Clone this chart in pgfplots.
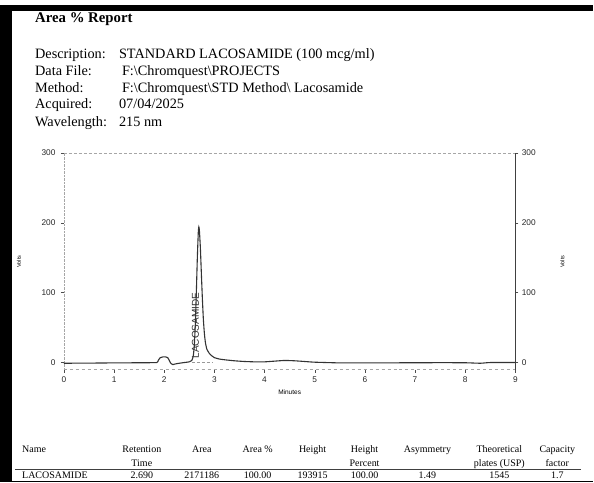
\documentclass[border=0pt]{standalone}
\usepackage{fontspec}
\setmainfont{Liberation Serif}
\setsansfont{Liberation Sans}
\usepackage{pgfplots}
\pgfplotsset{compat=1.18}
\begin{document}
\begin{tikzpicture}[x=1pt,y=1pt]
\fill[white] (0,0) rectangle (594,483);
\fill[black] (0,0) rectangle (12,478);
\fill[black] (0,472) rectangle (594,478);
% header text
\node[anchor=base west,inner sep=0pt,font=\fontsize{14.8}{16}\selectfont\bfseries] at (35,460) {Area \% Report};
\begin{scope}[every node/.style={anchor=base west,inner sep=0pt,font=\fontsize{14.3}{15}\selectfont}]
\node at (35,424) {Description:};
\node at (119,424) {STANDARD LACOSAMIDE (100 mcg/ml)};
\node at (35,407) {Data File:};
\node at (122,407) {F:\textbackslash Chromquest\textbackslash PROJECTS};
\node at (35,390) {Method:};
\node at (122,390) {F:\textbackslash Chromquest\textbackslash STD Method\textbackslash\ Lacosamide};
\node at (35,374) {Acquired:};
\node at (119,374) {07/04/2025};
\node at (35,356) {Wavelength:};
\node at (119,356) {215 nm};
\end{scope}
% chart
\begin{axis}[
  at={(64pt,113pt)}, anchor=south west,
  scale only axis, width=452pt, height=217pt,
  xmin=0, xmax=9, ymin=-10, ymax=300,
  axis line style={draw=none},
  xtick={0,...,9}, ytick={0,100,200,300},
  tick align=outside, major tick length=3pt,
  tick style={black!70, thin},
  xtick pos=bottom, ytick pos=left,
  /pgf/number format/assume math mode=true,
  tick label style={font=\sffamily\fontsize{8.3}{9}\selectfont, text=black!85},
  yticklabel style={xshift=-2pt},
  xticklabel style={yshift=-1pt},
  clip=false,
]
\draw[gray!70, densely dashed, thin] (axis cs:0,300) -- (axis cs:9,300);
\draw[gray!70, densely dotted, thin] (axis cs:0,-10) -- (axis cs:0,300);
\draw[gray!70, dashed, thin] (axis cs:0,-10) -- (axis cs:9,-10);
\draw[gray!80, densely dashed, thin] (axis cs:2.55,0) -- (axis cs:2.95,0);
\addplot[black!80, line width=1.1pt, smooth, tension=0.3] coordinates {
(0,-1) (0.5,-0.8) (1,-0.5) (1.5,-0.3) (1.85,0) (1.88,3) (1.92,7) (1.97,8) (2.03,8)
(2.07,7) (2.1,3) (2.13,-1) (2.17,-3) (2.22,-2) (2.3,-1) (2.4,0) (2.5,1) (2.55,3)
(2.58,10) (2.6,25) (2.62,55) (2.64,100) (2.66,150) (2.68,188) (2.69,194) (2.70,190)
(2.72,165) (2.74,128) (2.76,92) (2.78,62) (2.80,42) (2.82,29) (2.85,19) (2.9,13)
(2.95,9.5) (3.0,7) (3.1,5) (3.2,4) (3.4,2.5) (3.6,1.5) (3.8,1) (4.0,1) (4.2,2) (4.4,3)
(4.6,2.5) (4.8,1.5) (5.0,0.5) (5.5,-0.5) (6,-0.5) (7,-0.3) (7.5,-0.2) (8,-0.3)
(8.3,-1) (8.5,0) (9,0)};
\node[rotate=90, font=\sffamily\fontsize{10}{11}\selectfont, text=black!80, inner sep=0pt] at (axis cs:2.62,53) {LACOSAMIDE};
\end{axis}
\begin{axis}[
  at={(64pt,113pt)}, anchor=south west,
  scale only axis, width=452pt, height=217pt,
  xmin=0, xmax=9, ymin=-10, ymax=300,
  axis x line=none, axis y line*=right,
  axis line style={black!75, thin, -},
  ytick={0,100,200,300},
  tick align=outside, major tick length=3pt,
  tick style={black!70, thin},
  /pgf/number format/assume math mode=true,
  tick label style={font=\sffamily\fontsize{8.3}{9}\selectfont, text=black!85},
]
\addplot[draw=none] coordinates {(0,0) (9,0)};
\end{axis}
\node[rotate=90, font=\sffamily\fontsize{5.5}{6}\selectfont] at (19,221) {Volts};
\node[rotate=90, font=\sffamily\fontsize{5.5}{6}\selectfont] at (563,221) {Volts};
\node[font=\sffamily\fontsize{6.5}{7}\selectfont] at (290,90) {Minutes};
% table
\begin{scope}[every node/.style={anchor=base,inner sep=0pt,font=\fontsize{10}{11}\selectfont}]
\node[anchor=base west] at (22,30) {Name};
\node at (142,30) {Retention}; \node at (142,16) {Time};
\node at (202,30) {Area};
\node at (258,30) {Area \%};
\node at (313,30) {Height};
\node at (365,30) {Height}; \node at (365,16) {Percent};
\node at (428,30) {Asymmetry};
\node at (500,30) {Theoretical}; \node at (500,16) {plates (USP)};
\node at (558,30) {Capacity}; \node at (558,16) {factor};
\node[anchor=base west] at (22,3.5) {LACOSAMIDE};
\node at (142,3.5) {2.690};
\node at (202,3.5) {2171186};
\node at (258,3.5) {100.00};
\node at (313,3.5) {193915};
\node at (365,3.5) {100.00};
\node at (428,3.5) {1.49};
\node at (500,3.5) {1545};
\node at (558,3.5) {1.7};
\end{scope}
\draw[black!75, line width=1.2pt] (15,13) -- (582,13);
\draw[black, line width=1.5pt] (12,0.75) -- (594,0.75);
\end{tikzpicture}
\end{document}
